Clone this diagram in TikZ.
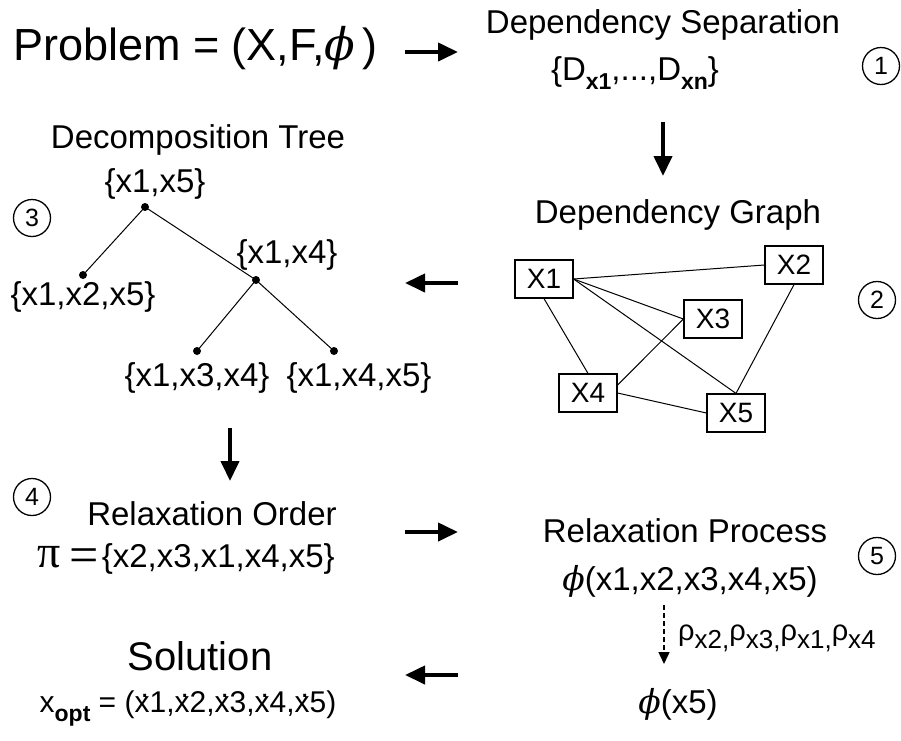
\documentclass[tikz,border=0pt]{standalone}
\usepackage{fontspec}
\setmainfont{Liberation Sans}
\newfontfamily\serifgr{Liberation Serif}
\newfontfamily\phifam{DejaVu Serif}
\usetikzlibrary{arrows.meta}
\newcommand\fs[1]{\fontsize{#1}{#1}\selectfont}
\newcommand\ph{{\phifam\itshape ϕ}}
\newcommand\dotx{x\llap{\raisebox{0.5em}{.}\kern0.02em}}
\newcommand\sub[1]{\raisebox{-0.3em}{\fs{23}\bfseries #1}}
\newcommand\rsub[1]{\raisebox{-0.3em}{\fs{26}#1}}
\tikzset{
  txt/.style={inner sep=0pt, font=\fs{33}},
  bigarrow/.style={line width=4pt, -{Triangle[length=20pt,width=18pt]}},
  circnum/.style={circle, draw, line width=1.3pt, minimum size=37pt, inner sep=0pt, font=\fs{25}},
  gbox/.style={draw, line width=1.2pt, minimum width=58pt, minimum height=38pt, inner sep=0pt, font=\fs{28}},
  tdot/.style={circle, fill, inner sep=0pt, minimum size=8pt},
  thin line/.style={line width=1pt},
}
\begin{document}
\begin{tikzpicture}[x=1pt,y=-1pt]
\useasboundingbox (0,0) rectangle (901,740);
% step 1
\node[txt, font=\fs{45}, anchor=base west] (prob) at (13,60) {Problem = (X,F,\ph\,)};
\node[txt, anchor=base] (ds) at (663,33) {Dependency Separation};
\node[txt, anchor=base] (dset) at (635,80) {\{D\sub{x1},...,D\sub{xn}\}};
\node[circnum] (c1) at (881,66) {1};
\coordinate (a1s) at (405,52); \coordinate (a1e) at (458,52);
\draw[bigarrow] (a1s) -- (a1e);
\coordinate (a2s) at (663,122); \coordinate (a2e) at (663,176);
\draw[bigarrow] (a2s) -- (a2e);
% step 2
\node[txt, anchor=base] (dg) at (678,223) {Dependency Graph};
\node[gbox] (X1) at (544,279) {X1};
\node[gbox] (X2) at (794,265) {X2};
\node[gbox] (X3) at (713,319) {X3};
\node[gbox] (X4) at (588,393) {X4};
\node[gbox] (X5) at (736,413) {X5};
\node[circnum] (c2) at (877,300) {2};
\draw[thin line] (X1.east) -- (X2.west);
\draw[thin line] (X1.east) -- (X3.west);
\draw[thin line] (X1.east) -- (X5.north);
\draw[thin line] (X1.south) -- (X4.north);
\draw[thin line] ([yshift=8pt]X4.east) -- (X3.west);
\draw[thin line] (X4.east) -- (X5.west);
\draw[thin line] (X2.south) -- (X5.north);
\coordinate (a3s) at (458,283); \coordinate (a3e) at (405,283);
\draw[bigarrow] (a3s) -- (a3e);
% step 3
\node[txt, anchor=base] (dt) at (198,148) {Decomposition Tree};
\node[circnum] (c3) at (32,218) {3};
\node[tdot] (r) at (145,207) {};
\node[tdot] (l) at (83,275) {};
\node[tdot] (m) at (256,280) {};
\node[tdot] (ml) at (197,351) {};
\node[tdot] (mr) at (334,351) {};
\draw[thin line] (r.center) -- (l.center);
\draw[thin line] (r.center) -- (m.center);
\draw[thin line] (m.center) -- (ml.center);
\draw[thin line] (m.center) -- (mr.center);
\node[txt, anchor=base] (tr) at (155,192) {\{x1,x5\}};
\node[txt, anchor=base] (tl) at (83,305) {\{x1,x2,x5\}};
\node[txt, anchor=base] (tm) at (287,263) {\{x1,x4\}};
\node[txt, anchor=base] (tml) at (197,386) {\{x1,x3,x4\}};
\node[txt, anchor=base] (tmr) at (359,386) {\{x1,x4,x5\}};
\coordinate (a4s) at (230,428); \coordinate (a4e) at (230,481);
\draw[bigarrow] (a4s) -- (a4e);
% step 4
\node[circnum] (c4) at (32,497) {4};
\node[txt, anchor=base] (ro) at (212,525) {Relaxation Order};
\node[txt, anchor=base west] (pi) at (37,567) {{\serifgr\fs{46}π\kern9pt\raisebox{-5pt}{\fs{52}=}\kern3pt}\{x2,x3,x1,x4,x5\}};
\coordinate (a5s) at (405,532); \coordinate (a5e) at (458,532);
\draw[bigarrow] (a5s) -- (a5e);
% step 5
\node[txt, anchor=base] (rp) at (685,542) {Relaxation Process};
\node[txt, anchor=base] (phi) at (690,590) {\ph(x1,x2,x3,x4,x5)};
\node[circnum] (c5) at (877,556) {5};
\coordinate (a6s) at (664,605); \coordinate (a6e) at (664,664);
\draw[line width=1.5pt, dash pattern=on 5pt off 3pt, -{Triangle[length=12pt,width=11pt]}] (a6s) -- (a6e);
\node[txt, font=\fs{29}, anchor=base west] (rho) at (678,640) {ρ\rsub{x2,}ρ\rsub{x3,}ρ\rsub{x1,}ρ\rsub{x4}};
\node[txt, anchor=base] (phi5) at (678,713) {\ph(x5)};
\coordinate (a7s) at (458,675); \coordinate (a7e) at (405,675);
\draw[bigarrow] (a7s) -- (a7e);
% solution
\node[txt, font=\fs{40}, anchor=base] (sol) at (200,670) {Solution};
\node[txt, font=\fs{30}, anchor=base] (xopt) at (188,712) {x\sub{opt} = (\dotx1,\dotx2,\dotx3,\dotx4,\dotx5)};
\end{tikzpicture}
\end{document}
